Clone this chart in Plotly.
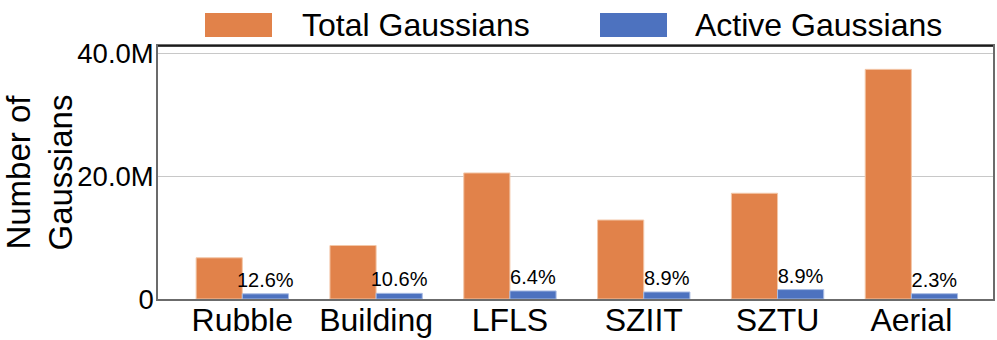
import plotly.graph_objects as go

# values (counts in millions)
scenes = ["Rubble", "Building", "LFLS", "SZIIT", "SZTU", "Aerial"]
total_m = [6.7, 8.7, 20.5, 12.85, 17.2, 37.35]
active_m = [0.84, 0.92, 1.31, 1.14, 1.53, 0.86]
active_pct = [12.6, 10.6, 6.4, 8.9, 8.9, 2.3]
y_ticks = [0, 20.0, 40.0]
y_tick_text = ["0", "20.0M", "40.0M"]

ORANGE = "#E1824A"
BLUE = "#4D72BF"
FONT = "Liberation Sans, Arial, sans-serif"

fig = go.Figure()
fig.add_trace(go.Bar(
    x=scenes, y=total_m, name="Total Gaussians",
    marker=dict(color=ORANGE, line=dict(color="#F3C7A8", width=1)),
    showlegend=False,
))
fig.add_trace(go.Bar(
    x=scenes, y=active_m, name="Active Gaussians",
    marker=dict(color=BLUE, line=dict(color="#A9BCE3", width=1)),
    text=[f"{p:.1f}%" for p in active_pct],
    textposition="outside", constraintext="none",
    textfont=dict(size=20, color="black", family=FONT),
    cliponaxis=False, showlegend=False,
))

# hand-drawn legend with large swatches, as in the reference
legend_items = [("Total Gaussians", ORANGE, 205, 300), ("Active Gaussians", BLUE, 600, 693)]
W, H = 997, 340
L, R, T, B = 158, 4, 46, 41
pw, ph = W - L - R, H - T - B
for label, color, sx, tx in legend_items:
    fig.add_shape(type="rect", xref="paper", yref="paper",
                  x0=(sx - L) / pw, x1=(sx + 67 - L) / pw,
                  y0=(H - B - 37) / ph, y1=(H - B - 13) / ph,
                  fillcolor=color, line=dict(color=color, width=0))
    fig.add_annotation(text=label, xref="paper", yref="paper",
                       x=(tx - L) / pw, y=(H - B - 25) / ph,
                       xanchor="left", yanchor="middle", showarrow=False,
                       font=dict(size=32, color="black", family=FONT))

fig.add_annotation(text="Number of<br>Gaussians", xref="paper", yref="paper",
                   x=(39 - L) / pw, y=0.5, textangle=-90, showarrow=False,
                   xanchor="center", yanchor="middle", borderpad=0,
                   font=dict(size=33, color="black", family=FONT))

# darker top edge of the frame
fig.add_shape(type="line", xref="paper", yref="paper", x0=0, x1=1, y0=1, y1=1,
              line=dict(color="black", width=1.5))

fig.update_layout(
    width=W, height=H,
    margin=dict(l=L, r=R, t=T, b=B),
    paper_bgcolor="white", plot_bgcolor="white",
    barmode="group", bargap=0.31, bargroupgap=0,
    font=dict(family=FONT, color="black"),
    xaxis=dict(range=[-0.63, 5.61], showline=True, linecolor="#6b6b6b", linewidth=1.5,
               mirror=True, ticks="", tickfont=dict(size=32), automargin=False,
               ticklabelstandoff=-8),
    yaxis=dict(range=[0, 41.15], tickvals=y_ticks, ticktext=y_tick_text,
               showgrid=True, gridcolor="#c8c8c8", gridwidth=1,
               showline=True, linecolor="#6b6b6b", linewidth=1.5, mirror=True,
               zeroline=False, ticks="", tickfont=dict(size=27.5), automargin=False,
               ticklabelstandoff=-3),
)

# drop the page's default body margin so the figure sits at the window corner
fig.write_html("out.html", config={"displayModeBar": False},
               post_script="document.body.style.margin='0';")
